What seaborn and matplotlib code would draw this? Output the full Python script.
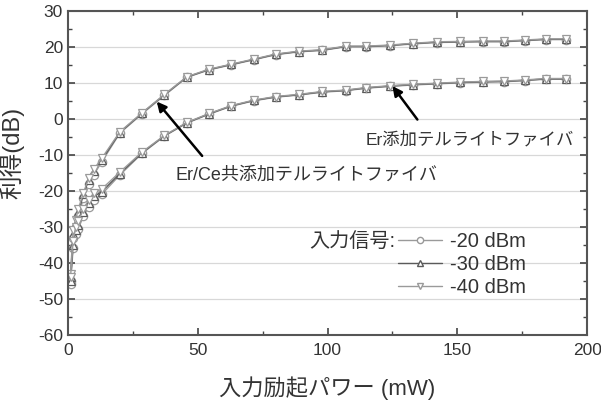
import numpy as np
import pandas as pd
import matplotlib
matplotlib.use("Agg")
import matplotlib.pyplot as plt
import seaborn as sns
from matplotlib.ticker import MultipleLocator
from matplotlib.lines import Line2D

sns.set_theme(style="white")
FONTS = ['Liberation Sans', 'Noto Sans CJK JP', 'DejaVu Sans']
plt.rcParams['font.family'] = FONTS
plt.rcParams['axes.unicode_minus'] = False

# pump power (mW)
pump = [1, 2, 3, 4, 6, 8, 10, 13, 20, 28.6, 37.2, 45.8, 54.4, 63, 71.6, 80, 89,
        98, 107, 115, 124, 133, 142, 151, 160, 168, 176, 184, 192]

# Er/Ce co-doped tellurite fiber gain (dB)
erce_m20 = [-45, -33, -30, -27, -22, -18, -15.5, -12, -4, 1.4, 6.5, 11.5, 13.6, 15,
            16.4, 17.8, 18.6, 19.0, 20.0, 20.0, 20.3, 20.8, 21.2, 21.3, 21.4, 21.4,
            21.7, 22.0, 22.0]
erce_m30 = [-44, -32, -29, -26, -21, -17, -14.5, -11.5, -3.8, 1.6, 6.7, 11.6, 13.7, 15.1,
            16.5, 17.9, 18.7, 19.1, 20.1, 20.1, 20.4, 20.9, 21.3, 21.4, 21.5, 21.5,
            21.8, 22.1, 22.1]
erce_m40 = [-43, -31, -28, -25, -20.5, -16.5, -14, -11, -3.6, 1.7, 6.8, 11.7, 13.8, 15.2,
            16.6, 18.0, 18.8, 19.2, 20.2, 20.2, 20.5, 21.0, 21.4, 21.5, 21.6, 21.6,
            21.9, 22.2, 22.2]

# Er-doped tellurite fiber gain (dB)
er_m20 = [-46, -36, -32, -30.5, -27, -24.5, -22.5, -21, -15.6, -9.6, -4.8, -1.2, 1.3,
          3.5, 5.0, 6.0, 6.6, 7.4, 7.8, 8.5, 9.0, 9.4, 9.7, 10.0, 10.2, 10.3, 10.6,
          11.0, 11.0]
er_m30 = [-45, -35, -31, -29.5, -26, -23.5, -21.5, -20.3, -15.2, -9.4, -4.7, -1.1, 1.4,
          3.6, 5.1, 6.1, 6.7, 7.5, 7.9, 8.6, 9.1, 9.5, 9.8, 10.1, 10.3, 10.4, 10.7,
          11.1, 11.1]
er_m40 = [-44, -34, -30, -28.5, -25, -22.5, -20.5, -19.5, -14.8, -9.2, -4.6, -1.0, 1.5,
          3.7, 5.2, 6.2, 6.8, 7.6, 8.0, 8.7, 9.2, 9.6, 9.9, 10.2, 10.4, 10.5, 10.8,
          11.2, 11.2]

signal_labels = ['-20 dBm', '-30 dBm', '-40 dBm']
legend_title = '入力信号:'
xlabel = '入力励起パワー (mW)'
ylabel = '利得(dB)'
label_erce = 'Er/Ce共添加テルライトファイバ'
label_er = 'Er添加テルライトファイバ'

styles = [
    dict(marker='o', color='#9a9a9a'),
    dict(marker='^', color='#5a5a5a'),
    dict(marker='v', color='#9a9a9a'),
]

fig = plt.figure(figsize=(6.01, 4.01), dpi=100)
ax = fig.add_axes([0.113, 0.165, 0.864, 0.808])

series = [(erce_m20, er_m20), (erce_m30, er_m30), (erce_m40, er_m40)]
for (a, b), st in zip(series, styles):
    for yv in (a, b):
        sns.lineplot(x=pump, y=yv, ax=ax, color=st['color'], linewidth=1.0,
                     marker=st['marker'], markersize=6, markerfacecolor='white',
                     markeredgecolor=st['color'], markeredgewidth=0.9,
                     sort=False, legend=False, errorbar=None)

ax.set_xlim(0, 200)
ax.set_ylim(-60, 30)
ax.xaxis.set_major_locator(MultipleLocator(50))
ax.xaxis.set_minor_locator(MultipleLocator(25))
ax.yaxis.set_major_locator(MultipleLocator(10))
ax.yaxis.set_minor_locator(MultipleLocator(5))
ax.grid(axis='y', which='major', color='#d8d8d8', linewidth=0.9)
ax.set_axisbelow(True)
ax.tick_params(which='both', direction='in', top=True, right=True, bottom=True, left=True,
               color='#444444')
ax.tick_params(which='major', length=5, width=1.2, labelsize=12.5, labelcolor='#333333')
ax.tick_params(axis='x', which='major', pad=6)
ax.tick_params(which='minor', length=3, width=1.0)
for sp in ax.spines.values():
    sp.set_color('#555555')
    sp.set_linewidth(1.5)

ax.set_xlabel(xlabel, fontsize=16, color='#333333')
ax.set_ylabel(ylabel, fontsize=17, color='#333333')
ax.xaxis.set_label_coords(0.5, -0.128)
ax.yaxis.set_label_coords(-0.083, 0.56)

arrow = dict(arrowstyle='-|>', color='black', lw=1.8, mutation_scale=14,
             shrinkA=0, shrinkB=0)
ax.annotate('', xy=(34.2, 4.8), xytext=(51.7, -10.3), arrowprops=arrow)
ax.annotate('', xy=(125.0, 9.1), xytext=(134.6, -0.2), arrowprops=arrow)
ax.text(41.3, -15.6, label_erce, fontsize=13, color='#333333', va='center', ha='left')
ax.text(114.5, -5.6, label_er, fontsize=12.5, color='#333333', va='center', ha='left')

handles = [Line2D([], [], color=st['color'], marker=st['marker'], markersize=4.5,
                  markerfacecolor='white', markeredgecolor=st['color'], linewidth=1.0)
           for st in styles]
leg = ax.legend(handles, signal_labels, loc='upper left', bbox_to_anchor=(0.636, 0.318),
                frameon=False, fontsize=14.5, handlelength=2.2, labelspacing=0.2,
                borderaxespad=0, borderpad=0, handletextpad=0.35, labelcolor='#333333')
ax.text(0.630, 0.287, legend_title, transform=ax.transAxes, ha='right', va='center',
        fontsize=14.5, color='#333333')

fig.savefig('out.png', dpi=100)
